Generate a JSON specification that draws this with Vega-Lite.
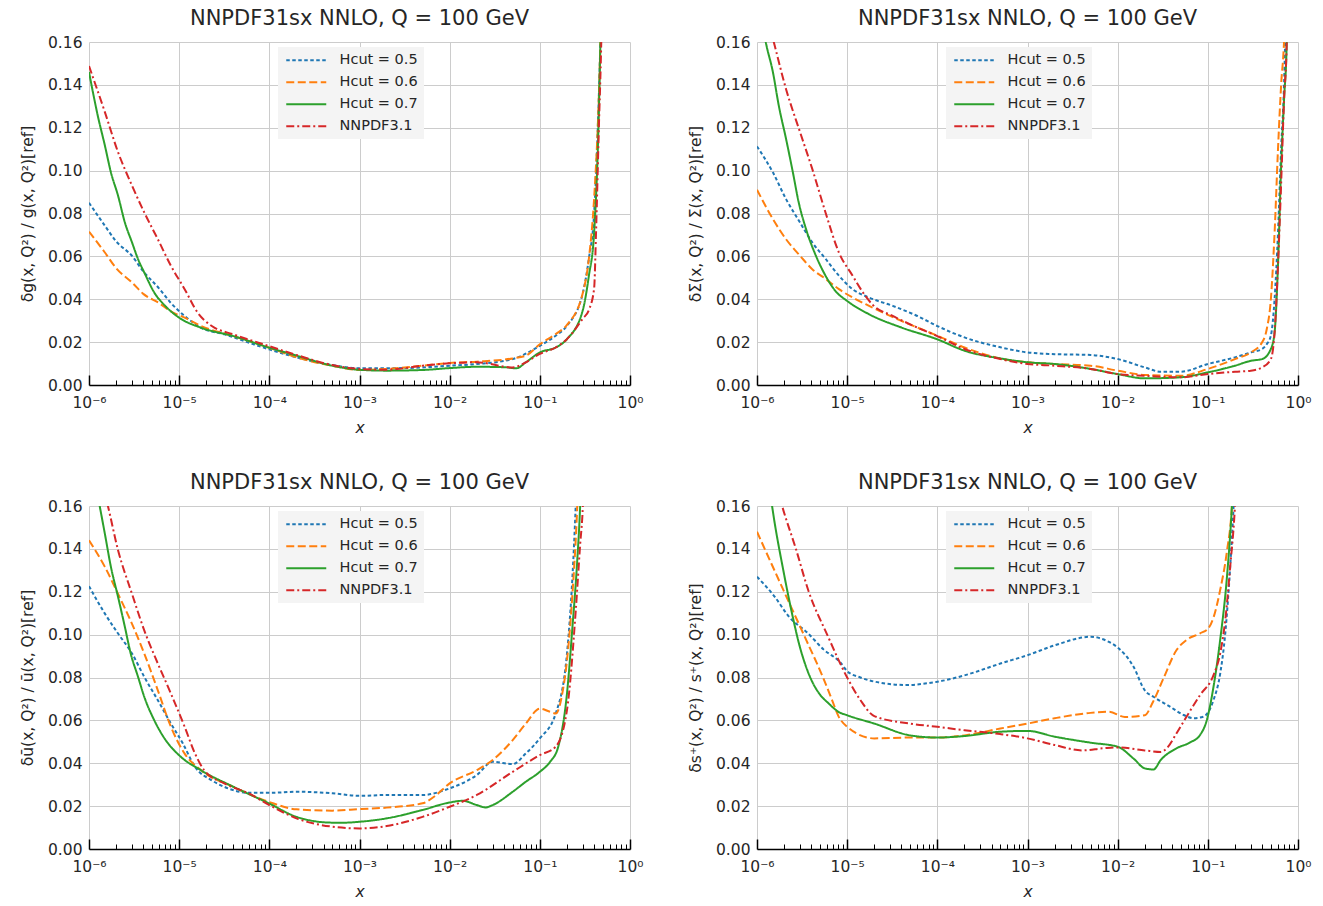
{
"$schema": "https://vega.github.io/schema/vega-lite/v6.json",
"background": "white",
"padding": {"left": 20, "top": 8, "right": 5, "bottom": 2},
"datasets": {
"g": [
{"x":1e-6,"y":0.085,"c":"0.5"},{"x":1.5e-6,"y":0.0743,"c":"0.5"},{"x":2e-6,"y":0.067,"c":"0.5"},{"x":3e-6,"y":0.0602,"c":"0.5"},{"x":4e-6,"y":0.053,"c":"0.5"},{"x":6e-6,"y":0.045,"c":"0.5"},{"x":8e-6,"y":0.0385,"c":"0.5"},{"x":1.15e-5,"y":0.0322,"c":"0.5"},{"x":1.75e-5,"y":0.0267,"c":"0.5"},{"x":3.2e-5,"y":0.0236,"c":"0.5"},{"x":6e-5,"y":0.0197,"c":"0.5"},{"x":1e-4,"y":0.0166,"c":"0.5"},{"x":2e-4,"y":0.0129,"c":"0.5"},{"x":5e-4,"y":0.0093,"c":"0.5"},{"x":1e-3,"y":0.0078,"c":"0.5"},{"x":2e-3,"y":0.0078,"c":"0.5"},{"x":5e-3,"y":0.0082,"c":"0.5"},{"x":1e-2,"y":0.009,"c":"0.5"},{"x":2e-2,"y":0.0098,"c":"0.5"},{"x":5e-2,"y":0.0121,"c":"0.5"},{"x":0.1,"y":0.0183,"c":"0.5"},{"x":0.15,"y":0.023,"c":"0.5"},{"x":0.2,"y":0.0276,"c":"0.5"},{"x":0.3,"y":0.043,"c":"0.5"},{"x":0.35,"y":0.059,"c":"0.5"},{"x":0.4,"y":0.08,"c":"0.5"},{"x":0.45,"y":0.133,"c":"0.5"},{"x":0.47,"y":0.16,"c":"0.5"},{"x":0.5,"y":0.2,"c":"0.5"},
{"x":1e-6,"y":0.0715,"c":"0.6"},{"x":1.5e-6,"y":0.0618,"c":"0.6"},{"x":2e-6,"y":0.0545,"c":"0.6"},{"x":3e-6,"y":0.0478,"c":"0.6"},{"x":4e-6,"y":0.0425,"c":"0.6"},{"x":6e-6,"y":0.0382,"c":"0.6"},{"x":8e-6,"y":0.0345,"c":"0.6"},{"x":1.15e-5,"y":0.0314,"c":"0.6"},{"x":1.75e-5,"y":0.0275,"c":"0.6"},{"x":4e-5,"y":0.0228,"c":"0.6"},{"x":1e-4,"y":0.0174,"c":"0.6"},{"x":2e-4,"y":0.0129,"c":"0.6"},{"x":5e-4,"y":0.009,"c":"0.6"},{"x":1e-3,"y":0.007,"c":"0.6"},{"x":2e-3,"y":0.0075,"c":"0.6"},{"x":5e-3,"y":0.009,"c":"0.6"},{"x":1e-2,"y":0.0103,"c":"0.6"},{"x":2e-2,"y":0.0109,"c":"0.6"},{"x":5e-2,"y":0.0124,"c":"0.6"},{"x":7e-2,"y":0.0137,"c":"0.6"},{"x":0.1,"y":0.019,"c":"0.6"},{"x":0.15,"y":0.0238,"c":"0.6"},{"x":0.2,"y":0.028,"c":"0.6"},{"x":0.3,"y":0.043,"c":"0.6"},{"x":0.35,"y":0.059,"c":"0.6"},{"x":0.4,"y":0.087,"c":"0.6"},{"x":0.45,"y":0.133,"c":"0.6"},{"x":0.47,"y":0.16,"c":"0.6"},{"x":0.5,"y":0.2,"c":"0.6"},
{"x":1e-6,"y":0.146,"c":"0.7"},{"x":1.25e-6,"y":0.1257,"c":"0.7"},{"x":1.5e-6,"y":0.1117,"c":"0.7"},{"x":1.75e-6,"y":0.0992,"c":"0.7"},{"x":2.1e-6,"y":0.0883,"c":"0.7"},{"x":2.5e-6,"y":0.0758,"c":"0.7"},{"x":3e-6,"y":0.0665,"c":"0.7"},{"x":3.5e-6,"y":0.0587,"c":"0.7"},{"x":4.1e-6,"y":0.0525,"c":"0.7"},{"x":5.3e-6,"y":0.0431,"c":"0.7"},{"x":7e-6,"y":0.0369,"c":"0.7"},{"x":1e-5,"y":0.0314,"c":"0.7"},{"x":1.75e-5,"y":0.0267,"c":"0.7"},{"x":4e-5,"y":0.0228,"c":"0.7"},{"x":1e-4,"y":0.0174,"c":"0.7"},{"x":2e-4,"y":0.0137,"c":"0.7"},{"x":5e-4,"y":0.009,"c":"0.7"},{"x":1e-3,"y":0.0071,"c":"0.7"},{"x":2e-3,"y":0.0067,"c":"0.7"},{"x":5e-3,"y":0.007,"c":"0.7"},{"x":1e-2,"y":0.0079,"c":"0.7"},{"x":2e-2,"y":0.0085,"c":"0.7"},{"x":4e-2,"y":0.0083,"c":"0.7"},{"x":5.5e-2,"y":0.0078,"c":"0.7"},{"x":7e-2,"y":0.0106,"c":"0.7"},{"x":0.1,"y":0.0152,"c":"0.7"},{"x":0.15,"y":0.0175,"c":"0.7"},{"x":0.2,"y":0.0214,"c":"0.7"},{"x":0.3,"y":0.035,"c":"0.7"},{"x":0.35,"y":0.051,"c":"0.7"},{"x":0.4,"y":0.071,"c":"0.7"},{"x":0.45,"y":0.125,"c":"0.7"},{"x":0.47,"y":0.16,"c":"0.7"},{"x":0.5,"y":0.2,"c":"0.7"},
{"x":1e-6,"y":0.1488,"c":"NNPDF3.1"},{"x":1.5e-6,"y":0.1273,"c":"NNPDF3.1"},{"x":2.1e-6,"y":0.1086,"c":"NNPDF3.1"},{"x":3e-6,"y":0.093,"c":"NNPDF3.1"},{"x":4.1e-6,"y":0.0805,"c":"NNPDF3.1"},{"x":5.8e-6,"y":0.068,"c":"NNPDF3.1"},{"x":8.1e-6,"y":0.0556,"c":"NNPDF3.1"},{"x":1.15e-5,"y":0.0447,"c":"NNPDF3.1"},{"x":1.6e-5,"y":0.0338,"c":"NNPDF3.1"},{"x":2.3e-5,"y":0.0275,"c":"NNPDF3.1"},{"x":4e-5,"y":0.0236,"c":"NNPDF3.1"},{"x":1e-4,"y":0.0181,"c":"NNPDF3.1"},{"x":2e-4,"y":0.014,"c":"NNPDF3.1"},{"x":5e-4,"y":0.0093,"c":"NNPDF3.1"},{"x":1e-3,"y":0.0075,"c":"NNPDF3.1"},{"x":2e-3,"y":0.0071,"c":"NNPDF3.1"},{"x":5e-3,"y":0.009,"c":"NNPDF3.1"},{"x":1e-2,"y":0.0101,"c":"NNPDF3.1"},{"x":2e-2,"y":0.0106,"c":"NNPDF3.1"},{"x":5e-2,"y":0.0082,"c":"NNPDF3.1"},{"x":7e-2,"y":0.0106,"c":"NNPDF3.1"},{"x":0.1,"y":0.0145,"c":"NNPDF3.1"},{"x":0.15,"y":0.0175,"c":"NNPDF3.1"},{"x":0.2,"y":0.0214,"c":"NNPDF3.1"},{"x":0.3,"y":0.031,"c":"NNPDF3.1"},{"x":0.35,"y":0.035,"c":"NNPDF3.1"},{"x":0.4,"y":0.045,"c":"NNPDF3.1"},{"x":0.42,"y":0.071,"c":"NNPDF3.1"},{"x":0.45,"y":0.118,"c":"NNPDF3.1"},{"x":0.48,"y":0.16,"c":"NNPDF3.1"},{"x":0.5,"y":0.2,"c":"NNPDF3.1"}
],
"S": [
{"x":1e-6,"y":0.1113,"c":"0.5"},{"x":1.5e-6,"y":0.0992,"c":"0.5"},{"x":2.1e-6,"y":0.0867,"c":"0.5"},{"x":3e-6,"y":0.0758,"c":"0.5"},{"x":4.1e-6,"y":0.0665,"c":"0.5"},{"x":5.8e-6,"y":0.0587,"c":"0.5"},{"x":8.1e-6,"y":0.051,"c":"0.5"},{"x":1.15e-5,"y":0.0447,"c":"0.5"},{"x":1.75e-5,"y":0.0408,"c":"0.5"},{"x":3.2e-5,"y":0.0369,"c":"0.5"},{"x":6e-5,"y":0.0322,"c":"0.5"},{"x":1e-4,"y":0.0275,"c":"0.5"},{"x":2e-4,"y":0.0222,"c":"0.5"},{"x":5e-4,"y":0.0176,"c":"0.5"},{"x":1e-3,"y":0.0152,"c":"0.5"},{"x":2e-3,"y":0.0144,"c":"0.5"},{"x":5e-3,"y":0.014,"c":"0.5"},{"x":1e-2,"y":0.0121,"c":"0.5"},{"x":2e-2,"y":0.0082,"c":"0.5"},{"x":3e-2,"y":0.0062,"c":"0.5"},{"x":5e-2,"y":0.0062,"c":"0.5"},{"x":0.1,"y":0.0098,"c":"0.5"},{"x":0.2,"y":0.0129,"c":"0.5"},{"x":0.3,"y":0.0152,"c":"0.5"},{"x":0.4,"y":0.0168,"c":"0.5"},{"x":0.45,"y":0.019,"c":"0.5"},{"x":0.5,"y":0.023,"c":"0.5"},{"x":0.55,"y":0.04,"c":"0.5"},{"x":0.6,"y":0.071,"c":"0.5"},{"x":0.65,"y":0.11,"c":"0.5"},{"x":0.7,"y":0.14,"c":"0.5"},{"x":0.72,"y":0.16,"c":"0.5"},{"x":0.75,"y":0.2,"c":"0.5"},
{"x":1e-6,"y":0.0911,"c":"0.6"},{"x":1.5e-6,"y":0.0774,"c":"0.6"},{"x":2.1e-6,"y":0.068,"c":"0.6"},{"x":3e-6,"y":0.0603,"c":"0.6"},{"x":4.1e-6,"y":0.054,"c":"0.6"},{"x":5.8e-6,"y":0.0494,"c":"0.6"},{"x":8.1e-6,"y":0.0447,"c":"0.6"},{"x":1.15e-5,"y":0.0408,"c":"0.6"},{"x":1.75e-5,"y":0.0369,"c":"0.6"},{"x":4e-5,"y":0.0299,"c":"0.6"},{"x":1e-4,"y":0.023,"c":"0.6"},{"x":2e-4,"y":0.0175,"c":"0.6"},{"x":5e-4,"y":0.0124,"c":"0.6"},{"x":1e-3,"y":0.0106,"c":"0.6"},{"x":2e-3,"y":0.0098,"c":"0.6"},{"x":5e-3,"y":0.009,"c":"0.6"},{"x":1e-2,"y":0.0067,"c":"0.6"},{"x":2e-2,"y":0.0047,"c":"0.6"},{"x":5e-2,"y":0.0043,"c":"0.6"},{"x":0.1,"y":0.0075,"c":"0.6"},{"x":0.2,"y":0.0121,"c":"0.6"},{"x":0.3,"y":0.0152,"c":"0.6"},{"x":0.4,"y":0.0199,"c":"0.6"},{"x":0.45,"y":0.026,"c":"0.6"},{"x":0.5,"y":0.04,"c":"0.6"},{"x":0.55,"y":0.071,"c":"0.6"},{"x":0.6,"y":0.11,"c":"0.6"},{"x":0.65,"y":0.14,"c":"0.6"},{"x":0.7,"y":0.16,"c":"0.6"},{"x":0.75,"y":0.2,"c":"0.6"},
{"x":1e-6,"y":0.185,"c":"0.7"},{"x":1.25e-6,"y":0.16,"c":"0.7"},{"x":1.5e-6,"y":0.146,"c":"0.7"},{"x":1.75e-6,"y":0.13,"c":"0.7"},{"x":2.1e-6,"y":0.1148,"c":"0.7"},{"x":2.5e-6,"y":0.0992,"c":"0.7"},{"x":2.9e-6,"y":0.0852,"c":"0.7"},{"x":3.5e-6,"y":0.0727,"c":"0.7"},{"x":4.5e-6,"y":0.0603,"c":"0.7"},{"x":5.75e-6,"y":0.051,"c":"0.7"},{"x":7.4e-6,"y":0.0439,"c":"0.7"},{"x":1e-5,"y":0.0392,"c":"0.7"},{"x":1.75e-5,"y":0.033,"c":"0.7"},{"x":4e-5,"y":0.0268,"c":"0.7"},{"x":1e-4,"y":0.0213,"c":"0.7"},{"x":2e-4,"y":0.016,"c":"0.7"},{"x":5e-4,"y":0.0124,"c":"0.7"},{"x":1e-3,"y":0.0106,"c":"0.7"},{"x":2e-3,"y":0.0098,"c":"0.7"},{"x":5e-3,"y":0.0075,"c":"0.7"},{"x":1e-2,"y":0.0051,"c":"0.7"},{"x":2e-2,"y":0.0031,"c":"0.7"},{"x":5e-2,"y":0.0036,"c":"0.7"},{"x":0.1,"y":0.0059,"c":"0.7"},{"x":0.2,"y":0.009,"c":"0.7"},{"x":0.3,"y":0.0113,"c":"0.7"},{"x":0.4,"y":0.0121,"c":"0.7"},{"x":0.5,"y":0.0168,"c":"0.7"},{"x":0.55,"y":0.0245,"c":"0.7"},{"x":0.6,"y":0.056,"c":"0.7"},{"x":0.65,"y":0.102,"c":"0.7"},{"x":0.7,"y":0.133,"c":"0.7"},{"x":0.75,"y":0.16,"c":"0.7"},{"x":0.78,"y":0.2,"c":"0.7"},
{"x":1e-6,"y":0.189,"c":"NNPDF3.1"},{"x":1.5e-6,"y":0.1616,"c":"NNPDF3.1"},{"x":2.1e-6,"y":0.138,"c":"NNPDF3.1"},{"x":3e-6,"y":0.118,"c":"NNPDF3.1"},{"x":4.1e-6,"y":0.1008,"c":"NNPDF3.1"},{"x":5.75e-6,"y":0.0805,"c":"NNPDF3.1"},{"x":8.1e-6,"y":0.0618,"c":"NNPDF3.1"},{"x":1.15e-5,"y":0.051,"c":"NNPDF3.1"},{"x":1.5e-5,"y":0.0431,"c":"NNPDF3.1"},{"x":1.9e-5,"y":0.0376,"c":"NNPDF3.1"},{"x":3.2e-5,"y":0.0322,"c":"NNPDF3.1"},{"x":6e-5,"y":0.0268,"c":"NNPDF3.1"},{"x":1e-4,"y":0.0228,"c":"NNPDF3.1"},{"x":2e-4,"y":0.0168,"c":"NNPDF3.1"},{"x":5e-4,"y":0.0121,"c":"NNPDF3.1"},{"x":1e-3,"y":0.0098,"c":"NNPDF3.1"},{"x":2e-3,"y":0.009,"c":"NNPDF3.1"},{"x":5e-3,"y":0.0075,"c":"NNPDF3.1"},{"x":1e-2,"y":0.0051,"c":"NNPDF3.1"},{"x":2e-2,"y":0.0043,"c":"NNPDF3.1"},{"x":5e-2,"y":0.0036,"c":"NNPDF3.1"},{"x":0.1,"y":0.0051,"c":"NNPDF3.1"},{"x":0.2,"y":0.0062,"c":"NNPDF3.1"},{"x":0.3,"y":0.0067,"c":"NNPDF3.1"},{"x":0.4,"y":0.0082,"c":"NNPDF3.1"},{"x":0.5,"y":0.0121,"c":"NNPDF3.1"},{"x":0.55,"y":0.0245,"c":"NNPDF3.1"},{"x":0.6,"y":0.056,"c":"NNPDF3.1"},{"x":0.65,"y":0.094,"c":"NNPDF3.1"},{"x":0.7,"y":0.133,"c":"NNPDF3.1"},{"x":0.75,"y":0.16,"c":"NNPDF3.1"},{"x":0.78,"y":0.2,"c":"NNPDF3.1"}
],
"U": [
{"x":1e-6,"y":0.1226,"c":"0.5"},{"x":1.5e-6,"y":0.1098,"c":"0.5"},{"x":2.1e-6,"y":0.1005,"c":"0.5"},{"x":3e-6,"y":0.0912,"c":"0.5"},{"x":4.1e-6,"y":0.0803,"c":"0.5"},{"x":5.8e-6,"y":0.0694,"c":"0.5"},{"x":8.1e-6,"y":0.0585,"c":"0.5"},{"x":1.1e-5,"y":0.0492,"c":"0.5"},{"x":1.5e-5,"y":0.0383,"c":"0.5"},{"x":2.3e-5,"y":0.032,"c":"0.5"},{"x":3.2e-5,"y":0.0289,"c":"0.5"},{"x":6e-5,"y":0.0262,"c":"0.5"},{"x":1e-4,"y":0.0262,"c":"0.5"},{"x":2e-4,"y":0.0267,"c":"0.5"},{"x":5e-4,"y":0.026,"c":"0.5"},{"x":1e-3,"y":0.0248,"c":"0.5"},{"x":2e-3,"y":0.0252,"c":"0.5"},{"x":5e-3,"y":0.0252,"c":"0.5"},{"x":1e-2,"y":0.0283,"c":"0.5"},{"x":2e-2,"y":0.0345,"c":"0.5"},{"x":3e-2,"y":0.0407,"c":"0.5"},{"x":5e-2,"y":0.0396,"c":"0.5"},{"x":7e-2,"y":0.0446,"c":"0.5"},{"x":0.1,"y":0.0516,"c":"0.5"},{"x":0.15,"y":0.0632,"c":"0.5"},{"x":0.2,"y":0.0911,"c":"0.5"},{"x":0.23,"y":0.127,"c":"0.5"},{"x":0.25,"y":0.16,"c":"0.5"},{"x":0.27,"y":0.2,"c":"0.5"},
{"x":1e-6,"y":0.144,"c":"0.6"},{"x":1.5e-6,"y":0.1316,"c":"0.6"},{"x":2.1e-6,"y":0.119,"c":"0.6"},{"x":3e-6,"y":0.105,"c":"0.6"},{"x":4.1e-6,"y":0.0912,"c":"0.6"},{"x":5.8e-6,"y":0.074,"c":"0.6"},{"x":8.1e-6,"y":0.057,"c":"0.6"},{"x":1.15e-5,"y":0.0445,"c":"0.6"},{"x":1.75e-5,"y":0.0367,"c":"0.6"},{"x":4e-5,"y":0.029,"c":"0.6"},{"x":1e-4,"y":0.0219,"c":"0.6"},{"x":2e-4,"y":0.0185,"c":"0.6"},{"x":5e-4,"y":0.0179,"c":"0.6"},{"x":1e-3,"y":0.0186,"c":"0.6"},{"x":2e-3,"y":0.0193,"c":"0.6"},{"x":5e-3,"y":0.0213,"c":"0.6"},{"x":7e-3,"y":0.025,"c":"0.6"},{"x":1e-2,"y":0.0306,"c":"0.6"},{"x":2e-2,"y":0.0368,"c":"0.6"},{"x":3e-2,"y":0.0415,"c":"0.6"},{"x":5e-2,"y":0.0508,"c":"0.6"},{"x":7e-2,"y":0.0585,"c":"0.6"},{"x":0.1,"y":0.0655,"c":"0.6"},{"x":0.13,"y":0.064,"c":"0.6"},{"x":0.15,"y":0.0632,"c":"0.6"},{"x":0.18,"y":0.074,"c":"0.6"},{"x":0.2,"y":0.088,"c":"0.6"},{"x":0.23,"y":0.119,"c":"0.6"},{"x":0.26,"y":0.16,"c":"0.6"},{"x":0.28,"y":0.2,"c":"0.6"},
{"x":1e-6,"y":0.185,"c":"0.7"},{"x":1.3e-6,"y":0.161,"c":"0.7"},{"x":1.5e-6,"y":0.147,"c":"0.7"},{"x":1.75e-6,"y":0.1316,"c":"0.7"},{"x":2.1e-6,"y":0.1176,"c":"0.7"},{"x":2.5e-6,"y":0.1036,"c":"0.7"},{"x":2.9e-6,"y":0.0912,"c":"0.7"},{"x":3.5e-6,"y":0.0803,"c":"0.7"},{"x":4.1e-6,"y":0.071,"c":"0.7"},{"x":5.3e-6,"y":0.06,"c":"0.7"},{"x":6.9e-6,"y":0.0515,"c":"0.7"},{"x":1e-5,"y":0.0437,"c":"0.7"},{"x":1.75e-5,"y":0.0367,"c":"0.7"},{"x":4e-5,"y":0.029,"c":"0.7"},{"x":1e-4,"y":0.0212,"c":"0.7"},{"x":2e-4,"y":0.015,"c":"0.7"},{"x":5e-4,"y":0.0123,"c":"0.7"},{"x":7e-4,"y":0.0123,"c":"0.7"},{"x":1e-3,"y":0.0127,"c":"0.7"},{"x":2e-3,"y":0.0143,"c":"0.7"},{"x":5e-3,"y":0.0182,"c":"0.7"},{"x":1e-2,"y":0.0217,"c":"0.7"},{"x":1.4e-2,"y":0.0225,"c":"0.7"},{"x":2e-2,"y":0.0205,"c":"0.7"},{"x":2.5e-2,"y":0.0194,"c":"0.7"},{"x":3e-2,"y":0.0205,"c":"0.7"},{"x":5e-2,"y":0.0267,"c":"0.7"},{"x":7e-2,"y":0.0314,"c":"0.7"},{"x":0.1,"y":0.036,"c":"0.7"},{"x":0.13,"y":0.0407,"c":"0.7"},{"x":0.16,"y":0.0477,"c":"0.7"},{"x":0.2,"y":0.0725,"c":"0.7"},{"x":0.23,"y":0.1036,"c":"0.7"},{"x":0.26,"y":0.1346,"c":"0.7"},{"x":0.28,"y":0.16,"c":"0.7"},{"x":0.3,"y":0.2,"c":"0.7"},
{"x":1e-6,"y":0.19,"c":"NNPDF3.1"},{"x":1.6e-6,"y":0.161,"c":"NNPDF3.1"},{"x":2.1e-6,"y":0.1394,"c":"NNPDF3.1"},{"x":3e-6,"y":0.119,"c":"NNPDF3.1"},{"x":4.1e-6,"y":0.102,"c":"NNPDF3.1"},{"x":5.8e-6,"y":0.0865,"c":"NNPDF3.1"},{"x":8.1e-6,"y":0.0725,"c":"NNPDF3.1"},{"x":1.15e-5,"y":0.057,"c":"NNPDF3.1"},{"x":1.5e-5,"y":0.0445,"c":"NNPDF3.1"},{"x":1.9e-5,"y":0.0367,"c":"NNPDF3.1"},{"x":3.2e-5,"y":0.0305,"c":"NNPDF3.1"},{"x":6e-5,"y":0.0258,"c":"NNPDF3.1"},{"x":1e-4,"y":0.0205,"c":"NNPDF3.1"},{"x":2e-4,"y":0.0143,"c":"NNPDF3.1"},{"x":5e-4,"y":0.0104,"c":"NNPDF3.1"},{"x":1e-3,"y":0.0096,"c":"NNPDF3.1"},{"x":2e-3,"y":0.0107,"c":"NNPDF3.1"},{"x":5e-3,"y":0.015,"c":"NNPDF3.1"},{"x":1e-2,"y":0.0197,"c":"NNPDF3.1"},{"x":2e-2,"y":0.0252,"c":"NNPDF3.1"},{"x":5e-2,"y":0.036,"c":"NNPDF3.1"},{"x":0.1,"y":0.0438,"c":"NNPDF3.1"},{"x":0.15,"y":0.0477,"c":"NNPDF3.1"},{"x":0.2,"y":0.0648,"c":"NNPDF3.1"},{"x":0.25,"y":0.111,"c":"NNPDF3.1"},{"x":0.28,"y":0.142,"c":"NNPDF3.1"},{"x":0.3,"y":0.16,"c":"NNPDF3.1"},{"x":0.32,"y":0.2,"c":"NNPDF3.1"}
],
"P": [
{"x":1e-6,"y":0.127,"c":"0.5"},{"x":1.55e-6,"y":0.118,"c":"0.5"},{"x":2.3e-6,"y":0.108,"c":"0.5"},{"x":3.6e-6,"y":0.101,"c":"0.5"},{"x":5.5e-6,"y":0.093,"c":"0.5"},{"x":8.4e-6,"y":0.087,"c":"0.5"},{"x":1e-5,"y":0.083,"c":"0.5"},{"x":1.4e-5,"y":0.08,"c":"0.5"},{"x":2.3e-5,"y":0.0776,"c":"0.5"},{"x":4.6e-5,"y":0.0765,"c":"0.5"},{"x":7.7e-5,"y":0.0773,"c":"0.5"},{"x":1e-4,"y":0.078,"c":"0.5"},{"x":2e-4,"y":0.081,"c":"0.5"},{"x":5e-4,"y":0.0865,"c":"0.5"},{"x":1e-3,"y":0.0904,"c":"0.5"},{"x":2e-3,"y":0.095,"c":"0.5"},{"x":5e-3,"y":0.099,"c":"0.5"},{"x":8e-3,"y":0.0966,"c":"0.5"},{"x":1e-2,"y":0.094,"c":"0.5"},{"x":1.5e-2,"y":0.085,"c":"0.5"},{"x":2e-2,"y":0.074,"c":"0.5"},{"x":2.5e-2,"y":0.071,"c":"0.5"},{"x":3.8e-2,"y":0.0664,"c":"0.5"},{"x":5.4e-2,"y":0.0625,"c":"0.5"},{"x":6.9e-2,"y":0.061,"c":"0.5"},{"x":8.9e-2,"y":0.0617,"c":"0.5"},{"x":0.1156,"y":0.0695,"c":"0.5"},{"x":0.137,"y":0.0817,"c":"0.5"},{"x":0.156,"y":0.1006,"c":"0.5"},{"x":0.177,"y":0.1317,"c":"0.5"},{"x":0.193,"y":0.16,"c":"0.5"},{"x":0.21,"y":0.2,"c":"0.5"},
{"x":1e-6,"y":0.148,"c":"0.6"},{"x":2e-6,"y":0.12,"c":"0.6"},{"x":3.3e-6,"y":0.1,"c":"0.6"},{"x":5.4e-6,"y":0.08,"c":"0.6"},{"x":6.8e-6,"y":0.0695,"c":"0.6"},{"x":8e-6,"y":0.062,"c":"0.6"},{"x":1e-5,"y":0.057,"c":"0.6"},{"x":2e-5,"y":0.0516,"c":"0.6"},{"x":5e-5,"y":0.052,"c":"0.6"},{"x":1e-4,"y":0.052,"c":"0.6"},{"x":2e-4,"y":0.053,"c":"0.6"},{"x":5e-4,"y":0.0562,"c":"0.6"},{"x":1e-3,"y":0.0585,"c":"0.6"},{"x":2e-3,"y":0.061,"c":"0.6"},{"x":5e-3,"y":0.0635,"c":"0.6"},{"x":8e-3,"y":0.064,"c":"0.6"},{"x":1.2e-2,"y":0.0616,"c":"0.6"},{"x":2e-2,"y":0.0624,"c":"0.6"},{"x":2.47e-2,"y":0.0687,"c":"0.6"},{"x":3.2e-2,"y":0.0793,"c":"0.6"},{"x":4.5e-2,"y":0.0928,"c":"0.6"},{"x":5.8e-2,"y":0.0975,"c":"0.6"},{"x":8.2e-2,"y":0.1006,"c":"0.6"},{"x":0.1016,"y":0.103,"c":"0.6"},{"x":0.1156,"y":0.108,"c":"0.6"},{"x":0.137,"y":0.1208,"c":"0.6"},{"x":0.163,"y":0.139,"c":"0.6"},{"x":0.185,"y":0.16,"c":"0.6"},{"x":0.2,"y":0.19,"c":"0.6"},
{"x":1e-6,"y":0.22,"c":"0.7"},{"x":1.47e-6,"y":0.16,"c":"0.7"},{"x":2e-6,"y":0.128,"c":"0.7"},{"x":2.5e-6,"y":0.108,"c":"0.7"},{"x":3e-6,"y":0.094,"c":"0.7"},{"x":3.5e-6,"y":0.085,"c":"0.7"},{"x":4.1e-6,"y":0.078,"c":"0.7"},{"x":5e-6,"y":0.072,"c":"0.7"},{"x":6.2e-6,"y":0.068,"c":"0.7"},{"x":8e-6,"y":0.064,"c":"0.7"},{"x":1e-5,"y":0.0624,"c":"0.7"},{"x":2e-5,"y":0.0585,"c":"0.7"},{"x":5e-5,"y":0.053,"c":"0.7"},{"x":1e-4,"y":0.052,"c":"0.7"},{"x":2e-4,"y":0.0527,"c":"0.7"},{"x":5e-4,"y":0.0547,"c":"0.7"},{"x":1e-3,"y":0.0551,"c":"0.7"},{"x":2e-3,"y":0.0524,"c":"0.7"},{"x":5e-3,"y":0.0496,"c":"0.7"},{"x":1e-2,"y":0.0477,"c":"0.7"},{"x":1.5e-2,"y":0.0422,"c":"0.7"},{"x":2e-2,"y":0.0376,"c":"0.7"},{"x":2.5e-2,"y":0.0371,"c":"0.7"},{"x":3e-2,"y":0.0415,"c":"0.7"},{"x":4.5e-2,"y":0.047,"c":"0.7"},{"x":6.35e-2,"y":0.0497,"c":"0.7"},{"x":8.2e-2,"y":0.0532,"c":"0.7"},{"x":0.0975,"y":0.0602,"c":"0.7"},{"x":0.1156,"y":0.0757,"c":"0.7"},{"x":0.137,"y":0.0975,"c":"0.7"},{"x":0.163,"y":0.127,"c":"0.7"},{"x":0.185,"y":0.16,"c":"0.7"},{"x":0.2,"y":0.19,"c":"0.7"},
{"x":1e-6,"y":0.21,"c":"NNPDF3.1"},{"x":1.9e-6,"y":0.16,"c":"NNPDF3.1"},{"x":2.7e-6,"y":0.14,"c":"NNPDF3.1"},{"x":3.75e-6,"y":0.12,"c":"NNPDF3.1"},{"x":6e-6,"y":0.1,"c":"NNPDF3.1"},{"x":1e-5,"y":0.08,"c":"NNPDF3.1"},{"x":1.4e-5,"y":0.0695,"c":"NNPDF3.1"},{"x":2e-5,"y":0.062,"c":"NNPDF3.1"},{"x":5e-5,"y":0.0585,"c":"NNPDF3.1"},{"x":1e-4,"y":0.057,"c":"NNPDF3.1"},{"x":2e-4,"y":0.0554,"c":"NNPDF3.1"},{"x":5e-4,"y":0.0536,"c":"NNPDF3.1"},{"x":1e-3,"y":0.0516,"c":"NNPDF3.1"},{"x":2e-3,"y":0.0485,"c":"NNPDF3.1"},{"x":4e-3,"y":0.046,"c":"NNPDF3.1"},{"x":7e-3,"y":0.047,"c":"NNPDF3.1"},{"x":1e-2,"y":0.0474,"c":"NNPDF3.1"},{"x":2e-2,"y":0.046,"c":"NNPDF3.1"},{"x":3e-2,"y":0.0453,"c":"NNPDF3.1"},{"x":3.5e-2,"y":0.047,"c":"NNPDF3.1"},{"x":4.5e-2,"y":0.054,"c":"NNPDF3.1"},{"x":5.8e-2,"y":0.0617,"c":"NNPDF3.1"},{"x":8.2e-2,"y":0.0718,"c":"NNPDF3.1"},{"x":0.1156,"y":0.0811,"c":"NNPDF3.1"},{"x":0.137,"y":0.0912,"c":"NNPDF3.1"},{"x":0.156,"y":0.1068,"c":"NNPDF3.1"},{"x":0.177,"y":0.1317,"c":"NNPDF3.1"},{"x":0.2,"y":0.16,"c":"NNPDF3.1"},{"x":0.22,"y":0.2,"c":"NNPDF3.1"}
]
},
"columns": 2,
"spacing": {"row": 121, "column": 127},
"bounds": "flush",
"concat": [
{"width":541,"height":343,"title":"NNPDF31sx NNLO, Q = 100 GeV","data":{"name":"g"},
 "encoding":{
  "x":{"field":"x","type":"quantitative","scale":{"type":"log","domain":[1e-6,1],"nice":false}},
  "y":{"field":"y","type":"quantitative","scale":{"domain":[0,0.16],"nice":false},"axis":{"values":[0,0.02,0.04,0.06,0.08,0.1,0.12,0.14,0.16],"format":".2f","grid":true,"title":"δg(x, Q²)  /  g(x, Q²)[ref]"}}
 },
 "layer":[
  {"mark":{"type":"line","strokeWidth":2,"clip":true,"interpolate":"monotone"},
   "encoding":{
    "x":{"field":"x","type":"quantitative","axis":{"orient":"bottom","values":[1e-6,1e-5,1e-4,1e-3,1e-2,1e-1,1],"grid":true,"domain":true,"domainColor":"#000000","domainWidth":1.6,"ticks":false,"labelExpr":"'10' + (datum.value < 0.5 ? '⁻' : '') + ['⁰','¹','²','³','⁴','⁵','⁶'][round(-log(datum.value)/LN10)]","title":"x","titleFontStyle":"italic"}},
    "color":{"field":"c","type":"nominal","scale":{"domain":["0.5","0.6","0.7","NNPDF3.1"],"range":["#1f77b4","#ff7f0e","#2ca02c","#d62728"]},"legend":{"title":null,"labelExpr":"datum.label == 'NNPDF3.1' ? datum.label : 'Hcut = ' + datum.label"}},
    "strokeDash":{"field":"c","type":"nominal","scale":{"domain":["0.5","0.6","0.7","NNPDF3.1"],"range":[[3.5,2.5],[8,3.5],[1,0],[8,3,2,3]]},"legend":{"title":null,"labelExpr":"datum.label == 'NNPDF3.1' ? datum.label : 'Hcut = ' + datum.label"}}
   }},
  {"mark":{"type":"point","opacity":0,"clip":true},"encoding":{"x":{"field":"x","type":"quantitative","axis":{"orient":"bottom","values":[1e-6,1e-5,1e-4,1e-3,1e-2,1e-1,1],"grid":false,"labels":false,"domain":false,"title":null,"ticks":true,"tickSize":-10,"tickWidth":1.5,"tickColor":"#000000"}}}},
  {"mark":{"type":"point","opacity":0,"clip":true},"encoding":{"x":{"field":"x","type":"quantitative","axis":{"orient":"bottom","values":[2e-6,3e-6,4e-6,5e-6,6e-6,7e-6,8e-6,9e-6,2e-5,3e-5,4e-5,5e-5,6e-5,7e-5,8e-5,9e-5,2e-4,3e-4,4e-4,5e-4,6e-4,7e-4,8e-4,9e-4,2e-3,3e-3,4e-3,5e-3,6e-3,7e-3,8e-3,9e-3,2e-2,3e-2,4e-2,5e-2,6e-2,7e-2,8e-2,9e-2,0.2,0.3,0.4,0.5,0.6,0.7,0.8,0.9],"grid":false,"labels":false,"domain":false,"title":null,"ticks":true,"tickSize":-5,"tickWidth":1,"tickColor":"#000000"}}}}
 ],
 "resolve":{"axis":{"x":"independent"}}},
{"width":541,"height":343,"title":"NNPDF31sx NNLO, Q = 100 GeV","data":{"name":"S"},
 "encoding":{
  "x":{"field":"x","type":"quantitative","scale":{"type":"log","domain":[1e-6,1],"nice":false}},
  "y":{"field":"y","type":"quantitative","scale":{"domain":[0,0.16],"nice":false},"axis":{"values":[0,0.02,0.04,0.06,0.08,0.1,0.12,0.14,0.16],"format":".2f","grid":true,"title":"δΣ(x, Q²)  /  Σ(x, Q²)[ref]"}}
 },
 "layer":[
  {"mark":{"type":"line","strokeWidth":2,"clip":true,"interpolate":"monotone"},
   "encoding":{
    "x":{"field":"x","type":"quantitative","axis":{"orient":"bottom","values":[1e-6,1e-5,1e-4,1e-3,1e-2,1e-1,1],"grid":true,"domain":true,"domainColor":"#000000","domainWidth":1.6,"ticks":false,"labelExpr":"'10' + (datum.value < 0.5 ? '⁻' : '') + ['⁰','¹','²','³','⁴','⁵','⁶'][round(-log(datum.value)/LN10)]","title":"x","titleFontStyle":"italic"}},
    "color":{"field":"c","type":"nominal","scale":{"domain":["0.5","0.6","0.7","NNPDF3.1"],"range":["#1f77b4","#ff7f0e","#2ca02c","#d62728"]},"legend":{"title":null,"labelExpr":"datum.label == 'NNPDF3.1' ? datum.label : 'Hcut = ' + datum.label"}},
    "strokeDash":{"field":"c","type":"nominal","scale":{"domain":["0.5","0.6","0.7","NNPDF3.1"],"range":[[3.5,2.5],[8,3.5],[1,0],[8,3,2,3]]},"legend":{"title":null,"labelExpr":"datum.label == 'NNPDF3.1' ? datum.label : 'Hcut = ' + datum.label"}}
   }},
  {"mark":{"type":"point","opacity":0,"clip":true},"encoding":{"x":{"field":"x","type":"quantitative","axis":{"orient":"bottom","values":[1e-6,1e-5,1e-4,1e-3,1e-2,1e-1,1],"grid":false,"labels":false,"domain":false,"title":null,"ticks":true,"tickSize":-10,"tickWidth":1.5,"tickColor":"#000000"}}}},
  {"mark":{"type":"point","opacity":0,"clip":true},"encoding":{"x":{"field":"x","type":"quantitative","axis":{"orient":"bottom","values":[2e-6,3e-6,4e-6,5e-6,6e-6,7e-6,8e-6,9e-6,2e-5,3e-5,4e-5,5e-5,6e-5,7e-5,8e-5,9e-5,2e-4,3e-4,4e-4,5e-4,6e-4,7e-4,8e-4,9e-4,2e-3,3e-3,4e-3,5e-3,6e-3,7e-3,8e-3,9e-3,2e-2,3e-2,4e-2,5e-2,6e-2,7e-2,8e-2,9e-2,0.2,0.3,0.4,0.5,0.6,0.7,0.8,0.9],"grid":false,"labels":false,"domain":false,"title":null,"ticks":true,"tickSize":-5,"tickWidth":1,"tickColor":"#000000"}}}}
 ],
 "resolve":{"axis":{"x":"independent"}}},
{"width":541,"height":343,"title":"NNPDF31sx NNLO, Q = 100 GeV","data":{"name":"U"},
 "encoding":{
  "x":{"field":"x","type":"quantitative","scale":{"type":"log","domain":[1e-6,1],"nice":false}},
  "y":{"field":"y","type":"quantitative","scale":{"domain":[0,0.16],"nice":false},"axis":{"values":[0,0.02,0.04,0.06,0.08,0.1,0.12,0.14,0.16],"format":".2f","grid":true,"title":"δū(x, Q²)  /  ū(x, Q²)[ref]"}}
 },
 "layer":[
  {"mark":{"type":"line","strokeWidth":2,"clip":true,"interpolate":"monotone"},
   "encoding":{
    "x":{"field":"x","type":"quantitative","axis":{"orient":"bottom","values":[1e-6,1e-5,1e-4,1e-3,1e-2,1e-1,1],"grid":true,"domain":true,"domainColor":"#000000","domainWidth":1.6,"ticks":false,"labelExpr":"'10' + (datum.value < 0.5 ? '⁻' : '') + ['⁰','¹','²','³','⁴','⁵','⁶'][round(-log(datum.value)/LN10)]","title":"x","titleFontStyle":"italic"}},
    "color":{"field":"c","type":"nominal","scale":{"domain":["0.5","0.6","0.7","NNPDF3.1"],"range":["#1f77b4","#ff7f0e","#2ca02c","#d62728"]},"legend":{"title":null,"labelExpr":"datum.label == 'NNPDF3.1' ? datum.label : 'Hcut = ' + datum.label"}},
    "strokeDash":{"field":"c","type":"nominal","scale":{"domain":["0.5","0.6","0.7","NNPDF3.1"],"range":[[3.5,2.5],[8,3.5],[1,0],[8,3,2,3]]},"legend":{"title":null,"labelExpr":"datum.label == 'NNPDF3.1' ? datum.label : 'Hcut = ' + datum.label"}}
   }},
  {"mark":{"type":"point","opacity":0,"clip":true},"encoding":{"x":{"field":"x","type":"quantitative","axis":{"orient":"bottom","values":[1e-6,1e-5,1e-4,1e-3,1e-2,1e-1,1],"grid":false,"labels":false,"domain":false,"title":null,"ticks":true,"tickSize":-10,"tickWidth":1.5,"tickColor":"#000000"}}}},
  {"mark":{"type":"point","opacity":0,"clip":true},"encoding":{"x":{"field":"x","type":"quantitative","axis":{"orient":"bottom","values":[2e-6,3e-6,4e-6,5e-6,6e-6,7e-6,8e-6,9e-6,2e-5,3e-5,4e-5,5e-5,6e-5,7e-5,8e-5,9e-5,2e-4,3e-4,4e-4,5e-4,6e-4,7e-4,8e-4,9e-4,2e-3,3e-3,4e-3,5e-3,6e-3,7e-3,8e-3,9e-3,2e-2,3e-2,4e-2,5e-2,6e-2,7e-2,8e-2,9e-2,0.2,0.3,0.4,0.5,0.6,0.7,0.8,0.9],"grid":false,"labels":false,"domain":false,"title":null,"ticks":true,"tickSize":-5,"tickWidth":1,"tickColor":"#000000"}}}}
 ],
 "resolve":{"axis":{"x":"independent"}}},
{"width":541,"height":343,"title":"NNPDF31sx NNLO, Q = 100 GeV","data":{"name":"P"},
 "encoding":{
  "x":{"field":"x","type":"quantitative","scale":{"type":"log","domain":[1e-6,1],"nice":false}},
  "y":{"field":"y","type":"quantitative","scale":{"domain":[0,0.16],"nice":false},"axis":{"values":[0,0.02,0.04,0.06,0.08,0.1,0.12,0.14,0.16],"format":".2f","grid":true,"title":"δs⁺(x, Q²)  /  s⁺(x, Q²)[ref]"}}
 },
 "layer":[
  {"mark":{"type":"line","strokeWidth":2,"clip":true,"interpolate":"monotone"},
   "encoding":{
    "x":{"field":"x","type":"quantitative","axis":{"orient":"bottom","values":[1e-6,1e-5,1e-4,1e-3,1e-2,1e-1,1],"grid":true,"domain":true,"domainColor":"#000000","domainWidth":1.6,"ticks":false,"labelExpr":"'10' + (datum.value < 0.5 ? '⁻' : '') + ['⁰','¹','²','³','⁴','⁵','⁶'][round(-log(datum.value)/LN10)]","title":"x","titleFontStyle":"italic"}},
    "color":{"field":"c","type":"nominal","scale":{"domain":["0.5","0.6","0.7","NNPDF3.1"],"range":["#1f77b4","#ff7f0e","#2ca02c","#d62728"]},"legend":{"title":null,"labelExpr":"datum.label == 'NNPDF3.1' ? datum.label : 'Hcut = ' + datum.label"}},
    "strokeDash":{"field":"c","type":"nominal","scale":{"domain":["0.5","0.6","0.7","NNPDF3.1"],"range":[[3.5,2.5],[8,3.5],[1,0],[8,3,2,3]]},"legend":{"title":null,"labelExpr":"datum.label == 'NNPDF3.1' ? datum.label : 'Hcut = ' + datum.label"}}
   }},
  {"mark":{"type":"point","opacity":0,"clip":true},"encoding":{"x":{"field":"x","type":"quantitative","axis":{"orient":"bottom","values":[1e-6,1e-5,1e-4,1e-3,1e-2,1e-1,1],"grid":false,"labels":false,"domain":false,"title":null,"ticks":true,"tickSize":-10,"tickWidth":1.5,"tickColor":"#000000"}}}},
  {"mark":{"type":"point","opacity":0,"clip":true},"encoding":{"x":{"field":"x","type":"quantitative","axis":{"orient":"bottom","values":[2e-6,3e-6,4e-6,5e-6,6e-6,7e-6,8e-6,9e-6,2e-5,3e-5,4e-5,5e-5,6e-5,7e-5,8e-5,9e-5,2e-4,3e-4,4e-4,5e-4,6e-4,7e-4,8e-4,9e-4,2e-3,3e-3,4e-3,5e-3,6e-3,7e-3,8e-3,9e-3,2e-2,3e-2,4e-2,5e-2,6e-2,7e-2,8e-2,9e-2,0.2,0.3,0.4,0.5,0.6,0.7,0.8,0.9],"grid":false,"labels":false,"domain":false,"title":null,"ticks":true,"tickSize":-5,"tickWidth":1,"tickColor":"#000000"}}}}
 ],
 "resolve":{"axis":{"x":"independent"}}}
],
"resolve":{"scale":{"color":"independent","strokeDash":"independent"},"legend":{"color":"independent","strokeDash":"independent"}},
"config":{
 "view":{"stroke":null},
 "font":"DejaVu Sans",
 "title":{"font":"DejaVu Sans","fontSize":21,"fontWeight":"normal","color":"#262626","offset":6},
 "axis":{"labelFont":"DejaVu Sans","labelFontSize":15.5,"labelColor":"#262626","titleFont":"DejaVu Sans","titleFontSize":15.5,"titleFontWeight":"normal","titleColor":"#262626","gridColor":"#cccccc","gridWidth":1,"ticks":false,"domain":false,"labelFlush":false,"labelOverlap":false,"labelBound":false},
 "axisX":{"labelPadding":10,"titlePadding":10},
 "axisY":{"labelPadding":7,"titlePadding":12},
 "legend":{"orient":"none","legendX":189,"legendY":5,"fillColor":"#f4f4f4","strokeColor":null,"padding":6,"symbolType":"M-4,0H4","symbolSize":100,"symbolStrokeWidth":2,"symbolOffset":15,"labelOffset":26,"labelFont":"DejaVu Sans","labelFontSize":14.5,"labelColor":"#262626","rowPadding":7,"cornerRadius":0}
}
}
